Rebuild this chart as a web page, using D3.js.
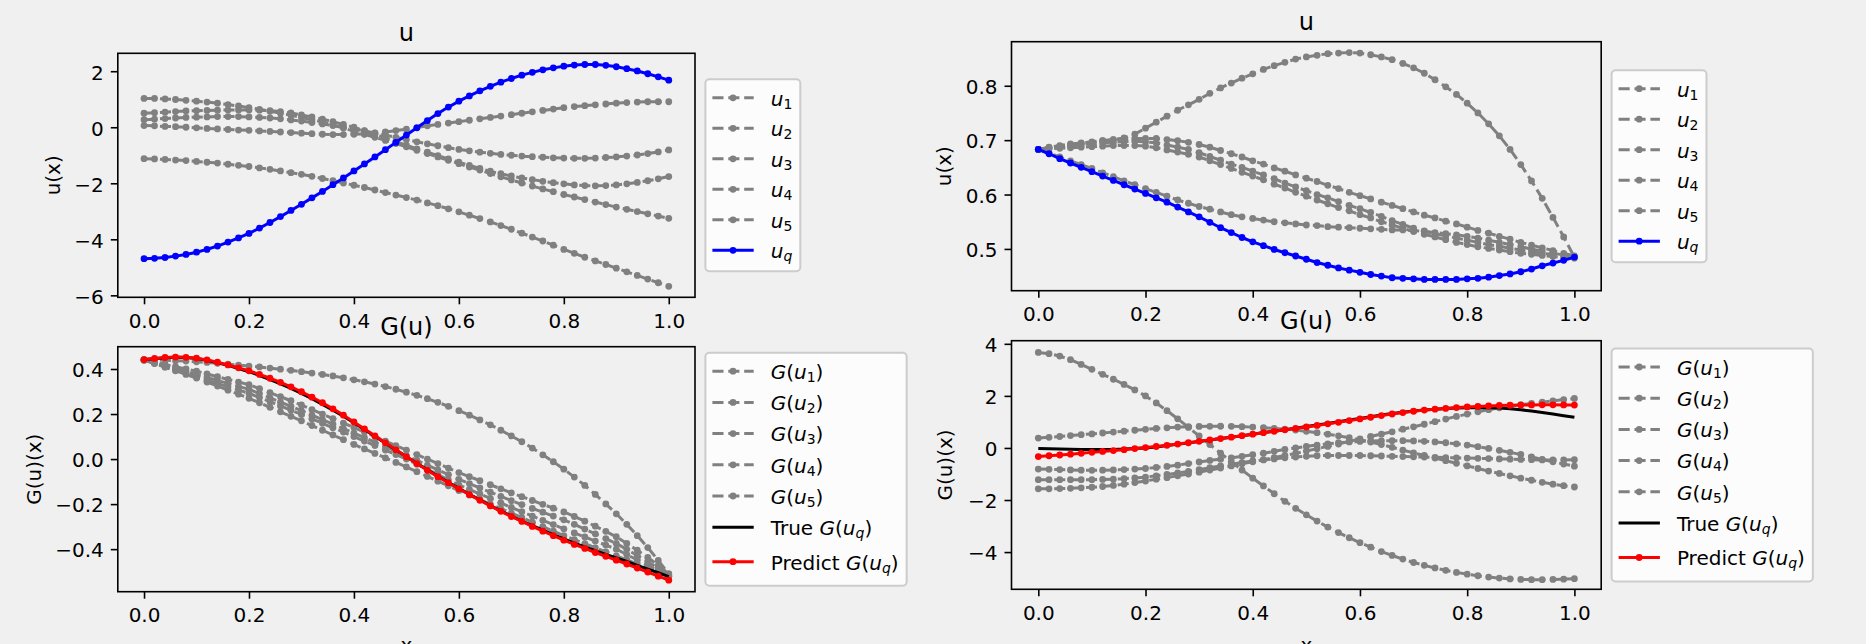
<!DOCTYPE html>
<html><head><meta charset="utf-8">
<script src="https://cdn.jsdelivr.net/npm/d3@7"></script>
<style>
html,body{margin:0;padding:0;background:#f0f0f0;}
svg{display:block;font-family:"DejaVu Sans",sans-serif;}
text{white-space:pre;}
</style></head><body>
<svg id="chart" width="1866" height="644"></svg>
<script>
// ---------- DATA ----------
const xGrid = [0,0.02,0.04,0.06,0.08,0.1,0.12,0.14,0.16,0.18,0.2,0.22,0.24,0.26,0.28,0.3,0.32,0.34,0.36,0.38,0.4,0.42,0.44,0.46,0.48,0.5,0.52,0.54,0.56,0.58,0.6,0.62,0.64,0.66,0.68,0.7,0.72,0.74,0.76,0.78,0.8,0.82,0.84,0.86,0.88,0.9,0.92,0.94,0.96,0.98,1.0];
const xTicks = [0,0.2,0.4,0.6,0.8,1.0];
const tlYTicks = [-6,-4,-2,0,2];
const blYTicks = [-0.4,-0.2,0,0.2,0.4];
const trYTicks = [0.5,0.6,0.7,0.8];
const brYTicks = [-4,-2,0,2,4];

// top-left: u samples
const tlU1 = [1.03,1.03,1.01,0.99,0.96,0.93,0.90,0.86,0.81,0.76,0.70,0.64,0.57,0.50,0.43,0.35,0.27,0.19,0.08,-0.03,-0.14,-0.25,-0.36,-0.47,-0.58,-0.70,-0.82,-0.94,-1.06,-1.18,-1.30,-1.42,-1.53,-1.65,-1.77,-1.88,-1.99,-2.10,-2.20,-2.30,-2.40,-2.49,-2.58,-2.67,-2.76,-2.85,-2.93,-3.01,-3.09,-3.17,-3.25];
const tlU2 = [0.50,0.52,0.54,0.56,0.58,0.59,0.60,0.61,0.62,0.62,0.62,0.61,0.59,0.56,0.51,0.44,0.37,0.29,0.20,0.10,0.00,-0.12,-0.25,-0.38,-0.51,-0.64,-0.77,-0.89,-1.01,-1.13,-1.25,-1.36,-1.47,-1.57,-1.66,-1.74,-1.81,-1.87,-1.93,-1.98,-2.02,-2.06,-2.08,-2.09,-2.08,-2.06,-2.02,-1.97,-1.91,-1.84,-1.76];
const tlU3 = [0.27,0.29,0.31,0.33,0.35,0.36,0.37,0.38,0.38,0.38,0.37,0.35,0.33,0.30,0.26,0.22,0.17,0.12,0.06,0.00,-0.06,-0.13,-0.20,-0.28,-0.36,-0.44,-0.52,-0.59,-0.66,-0.73,-0.79,-0.84,-0.89,-0.93,-0.97,-1.00,-1.03,-1.05,-1.07,-1.09,-1.10,-1.11,-1.11,-1.10,-1.08,-1.06,-1.03,-0.99,-0.94,-0.88,-0.81];
const tlU4 = [0.06,0.05,0.03,0.02,0.00,-0.02,-0.04,-0.06,-0.08,-0.10,-0.11,-0.13,-0.15,-0.17,-0.19,-0.21,-0.23,-0.25,-0.26,-0.26,-0.25,-0.24,-0.21,-0.17,-0.12,-0.07,-0.01,0.05,0.10,0.15,0.20,0.25,0.30,0.35,0.40,0.45,0.50,0.55,0.60,0.65,0.70,0.74,0.77,0.80,0.83,0.86,0.88,0.90,0.91,0.91,0.91];
const tlU5 = [-1.12,-1.13,-1.15,-1.17,-1.19,-1.22,-1.25,-1.28,-1.32,-1.36,-1.40,-1.45,-1.50,-1.56,-1.62,-1.68,-1.75,-1.83,-1.91,-1.99,-2.07,-2.15,-2.24,-2.33,-2.42,-2.51,-2.60,-2.70,-2.80,-2.91,-3.02,-3.14,-3.26,-3.38,-3.51,-3.64,-3.78,-3.92,-4.06,-4.21,-4.36,-4.50,-4.64,-4.77,-4.90,-5.03,-5.16,-5.29,-5.42,-5.55,-5.68];
const tlUq = [-4.69,-4.68,-4.65,-4.60,-4.54,-4.46,-4.36,-4.24,-4.10,-3.95,-3.79,-3.60,-3.40,-3.19,-2.97,-2.75,-2.52,-2.29,-2.05,-1.81,-1.56,-1.31,-1.06,-0.80,-0.54,-0.28,-0.02,0.24,0.49,0.72,0.93,1.12,1.30,1.46,1.61,1.74,1.86,1.96,2.05,2.12,2.18,2.22,2.24,2.24,2.21,2.16,2.09,2.01,1.91,1.80,1.68];

// bottom-left: G(u)
const blG1 = [0.440,0.440,0.439,0.437,0.435,0.432,0.429,0.425,0.421,0.417,0.413,0.409,0.404,0.399,0.394,0.388,0.382,0.376,0.369,0.361,0.352,0.343,0.333,0.322,0.310,0.297,0.283,0.268,0.252,0.234,0.215,0.195,0.174,0.152,0.128,0.103,0.077,0.049,0.019,-0.012,-0.045,-0.080,-0.117,-0.157,-0.199,-0.243,-0.290,-0.340,-0.393,-0.450,-0.510];
const blG2 = [0.44,0.43,0.42,0.41,0.40,0.39,0.378,0.366,0.354,0.342,0.33,0.313,0.295,0.277,0.259,0.24,0.22,0.20,0.18,0.16,0.14,0.12,0.10,0.08,0.06,0.04,0.02,0.0,-0.02,-0.04,-0.06,-0.078,-0.096,-0.114,-0.132,-0.15,-0.167,-0.184,-0.201,-0.218,-0.235,-0.255,-0.276,-0.298,-0.321,-0.345,-0.375,-0.405,-0.437,-0.472,-0.51];
const blG3 = [0.44,0.427,0.414,0.401,0.388,0.375,0.362,0.349,0.336,0.323,0.31,0.291,0.272,0.253,0.234,0.215,0.195,0.175,0.155,0.135,0.115,0.095,0.075,0.055,0.035,0.015,-0.006,-0.027,-0.048,-0.069,-0.09,-0.109,-0.128,-0.147,-0.166,-0.185,-0.202,-0.219,-0.236,-0.253,-0.27,-0.29,-0.311,-0.332,-0.353,-0.375,-0.401,-0.428,-0.456,-0.485,-0.515];
const blG4 = [0.44,0.425,0.41,0.395,0.38,0.365,0.35,0.336,0.321,0.307,0.292,0.273,0.255,0.236,0.217,0.198,0.178,0.159,0.139,0.12,0.10,0.08,0.06,0.04,0.02,0.0,-0.023,-0.046,-0.069,-0.092,-0.115,-0.135,-0.155,-0.175,-0.195,-0.215,-0.234,-0.253,-0.272,-0.291,-0.31,-0.328,-0.346,-0.364,-0.382,-0.40,-0.424,-0.448,-0.472,-0.496,-0.52];
const blG5 = [0.44,0.424,0.408,0.392,0.376,0.36,0.342,0.324,0.306,0.288,0.27,0.25,0.23,0.21,0.19,0.17,0.149,0.128,0.107,0.086,0.065,0.045,0.025,0.005,-0.015,-0.035,-0.056,-0.077,-0.098,-0.119,-0.14,-0.16,-0.18,-0.20,-0.22,-0.24,-0.26,-0.28,-0.30,-0.32,-0.34,-0.358,-0.376,-0.394,-0.412,-0.43,-0.448,-0.466,-0.484,-0.502,-0.52];
const blTrue = [0.442,0.446,0.450,0.452,0.451,0.447,0.439,0.428,0.416,0.402,0.388,0.371,0.353,0.334,0.314,0.292,0.268,0.243,0.217,0.190,0.161,0.131,0.101,0.070,0.040,0.010,-0.019,-0.048,-0.076,-0.103,-0.130,-0.156,-0.181,-0.206,-0.230,-0.253,-0.275,-0.296,-0.316,-0.336,-0.355,-0.373,-0.390,-0.407,-0.423,-0.439,-0.455,-0.472,-0.489,-0.505,-0.522];
const blPred = [0.442,0.447,0.451,0.453,0.452,0.448,0.440,0.430,0.418,0.405,0.392,0.376,0.359,0.341,0.321,0.299,0.275,0.250,0.223,0.195,0.165,0.134,0.103,0.072,0.041,0.010,-0.020,-0.050,-0.078,-0.105,-0.132,-0.158,-0.183,-0.208,-0.232,-0.255,-0.277,-0.299,-0.320,-0.340,-0.360,-0.379,-0.397,-0.415,-0.432,-0.449,-0.466,-0.484,-0.502,-0.520,-0.538];

// top-right: u samples
const trU1 = [0.683,0.686,0.689,0.691,0.694,0.696,0.699,0.701,0.704,0.711,0.722,0.733,0.744,0.755,0.765,0.775,0.786,0.796,0.805,0.814,0.822,0.830,0.837,0.843,0.849,0.853,0.856,0.859,0.860,0.861,0.860,0.857,0.853,0.848,0.841,0.833,0.823,0.811,0.798,0.784,0.768,0.750,0.730,0.708,0.683,0.655,0.625,0.593,0.558,0.522,0.485];
const trU2 = [0.683,0.687,0.690,0.693,0.695,0.697,0.699,0.701,0.702,0.703,0.703,0.703,0.701,0.699,0.696,0.692,0.687,0.681,0.675,0.669,0.662,0.656,0.649,0.643,0.636,0.630,0.624,0.617,0.611,0.604,0.598,0.592,0.586,0.580,0.574,0.568,0.562,0.557,0.551,0.546,0.540,0.534,0.529,0.523,0.518,0.512,0.507,0.502,0.497,0.492,0.487];
const trU3 = [0.683,0.686,0.688,0.690,0.692,0.693,0.695,0.696,0.697,0.698,0.697,0.695,0.691,0.687,0.683,0.677,0.670,0.663,0.656,0.650,0.643,0.636,0.629,0.621,0.614,0.607,0.600,0.594,0.587,0.580,0.574,0.567,0.560,0.552,0.545,0.538,0.533,0.528,0.524,0.520,0.516,0.512,0.508,0.505,0.501,0.498,0.495,0.492,0.490,0.487,0.485];
const trU4 = [0.683,0.684,0.685,0.686,0.687,0.688,0.689,0.690,0.690,0.690,0.689,0.686,0.682,0.678,0.674,0.669,0.662,0.655,0.648,0.641,0.634,0.627,0.619,0.612,0.604,0.597,0.590,0.583,0.576,0.570,0.563,0.557,0.550,0.544,0.538,0.532,0.527,0.522,0.517,0.512,0.508,0.504,0.501,0.498,0.495,0.492,0.490,0.488,0.486,0.484,0.483];
const trU5 = [0.683,0.676,0.669,0.662,0.655,0.648,0.640,0.633,0.625,0.618,0.611,0.604,0.597,0.590,0.584,0.578,0.573,0.568,0.563,0.559,0.556,0.553,0.550,0.548,0.546,0.544,0.543,0.541,0.540,0.539,0.538,0.537,0.536,0.535,0.535,0.534,0.532,0.530,0.528,0.526,0.523,0.520,0.516,0.512,0.508,0.504,0.500,0.496,0.492,0.489,0.485];
const trUq = [0.683,0.675,0.666,0.658,0.650,0.642,0.634,0.626,0.618,0.610,0.602,0.594,0.586,0.577,0.568,0.559,0.549,0.539,0.530,0.521,0.513,0.506,0.499,0.493,0.487,0.481,0.475,0.470,0.465,0.461,0.457,0.453,0.450,0.447,0.446,0.445,0.444,0.444,0.444,0.444,0.445,0.446,0.448,0.451,0.454,0.458,0.463,0.469,0.474,0.479,0.485];

// bottom-right: G(u)
const brG1 = [3.67,3.62,3.53,3.39,3.21,3.02,2.83,2.64,2.44,2.23,2.00,1.73,1.43,1.12,0.79,0.46,0.13,-0.20,-0.53,-0.85,-1.16,-1.46,-1.76,-2.05,-2.32,-2.57,-2.81,-3.04,-3.25,-3.45,-3.64,-3.81,-3.98,-4.13,-4.27,-4.40,-4.51,-4.61,-4.70,-4.78,-4.85,-4.91,-4.96,-5.00,-5.03,-5.05,-5.06,-5.06,-5.05,-5.04,-5.02];
const brG2 = [0.38,0.41,0.44,0.475,0.51,0.54,0.575,0.61,0.645,0.68,0.715,0.75,0.775,0.80,0.815,0.825,0.832,0.834,0.830,0.818,0.80,0.778,0.752,0.72,0.685,0.64,0.585,0.53,0.465,0.395,0.315,0.225,0.13,0.025,-0.085,-0.19,-0.29,-0.39,-0.49,-0.59,-0.69,-0.79,-0.89,-0.98,-1.07,-1.16,-1.24,-1.32,-1.39,-1.45,-1.50];
const brG3 = [-0.81,-0.82,-0.83,-0.845,-0.855,-0.86,-0.855,-0.845,-0.83,-0.81,-0.79,-0.75,-0.71,-0.66,-0.60,-0.54,-0.48,-0.43,-0.38,-0.32,-0.26,-0.20,-0.13,-0.06,0.0,0.06,0.11,0.16,0.20,0.23,0.25,0.265,0.275,0.28,0.278,0.27,0.255,0.23,0.20,0.16,0.11,0.05,-0.02,-0.09,-0.17,-0.25,-0.34,-0.44,-0.53,-0.62,-0.70];
const brG4 = [-1.22,-1.22,-1.22,-1.22,-1.22,-1.22,-1.21,-1.20,-1.18,-1.15,-1.12,-1.07,-1.02,-0.96,-0.90,-0.83,-0.76,-0.69,-0.63,-0.56,-0.50,-0.46,-0.42,-0.38,-0.35,-0.32,-0.30,-0.29,-0.29,-0.29,-0.29,-0.30,-0.31,-0.32,-0.33,-0.34,-0.35,-0.36,-0.37,-0.38,-0.39,-0.40,-0.41,-0.42,-0.43,-0.44,-0.45,-0.46,-0.46,-0.46,-0.45];
const brG5 = [-1.57,-1.57,-1.56,-1.55,-1.53,-1.51,-1.48,-1.44,-1.39,-1.33,-1.27,-1.20,-1.14,-1.07,-1.00,-0.93,-0.85,-0.77,-0.69,-0.61,-0.53,-0.45,-0.37,-0.29,-0.21,-0.12,-0.03,0.06,0.15,0.25,0.35,0.44,0.53,0.62,0.72,0.81,0.91,1.01,1.11,1.21,1.30,1.39,1.47,1.54,1.60,1.66,1.71,1.76,1.81,1.86,1.90];
const brTrue = [-0.02,-0.03,-0.04,-0.05,-0.055,-0.06,-0.06,-0.055,-0.045,-0.025,0.0,0.04,0.09,0.14,0.195,0.25,0.305,0.36,0.415,0.47,0.53,0.59,0.645,0.70,0.76,0.82,0.88,0.94,1.005,1.07,1.135,1.20,1.265,1.32,1.375,1.42,1.46,1.49,1.515,1.535,1.545,1.55,1.545,1.535,1.51,1.465,1.42,1.36,1.30,1.24,1.18];
const brPred = [-0.33,-0.30,-0.27,-0.24,-0.205,-0.17,-0.135,-0.10,-0.065,-0.025,0.015,0.055,0.10,0.15,0.20,0.255,0.31,0.36,0.415,0.47,0.53,0.585,0.64,0.695,0.75,0.805,0.865,0.925,0.985,1.05,1.115,1.18,1.245,1.305,1.36,1.41,1.455,1.49,1.52,1.55,1.575,1.595,1.615,1.63,1.64,1.648,1.653,1.655,1.655,1.652,1.648];

// ---------- DRAWING ----------
const GRAY = "#808080", BLUE = "#0000ff", RED = "#ff0000", BLACK = "#000000";
const FONT = "DejaVu Sans";
const svg = d3.select("#chart");

function uSeries(vals, q) {
  const list = vals.map((v, i) => ({values: v, color: GRAY, dashed: true, marker: true, label: {G: false, sub: String(i + 1)}}));
  list.push({values: q, color: BLUE, dashed: false, marker: true, label: {G: false, sub: "q"}});
  return list;
}
function gSeries(vals, tru, pred) {
  const list = vals.map((v, i) => ({values: v, color: GRAY, dashed: true, marker: true, label: {G: true, sub: String(i + 1)}}));
  list.push({values: tru, color: BLACK, dashed: false, marker: false, label: {G: true, sub: "q", prefix: "True "}});
  list.push({values: pred, color: RED, dashed: false, marker: true, label: {G: true, sub: "q", prefix: "Predict "}});
  return list;
}

const panels = [
  {left: 117.8, right: 695, top: 53.3, bottom: 297.3, yDomain: [-6.07, 2.64], yTicks: tlYTicks, fmt: d3.format("d"),
   title: "u", ylabel: "u(x)", ylabelX: 60.3, xlabel: null,
   series: uSeries([tlU1, tlU2, tlU3, tlU4, tlU5], tlUq)},
  {left: 117.8, right: 695, top: 346.7, bottom: 591.7, yDomain: [-0.589, 0.499], yTicks: blYTicks, fmt: d3.format(".1f"),
   title: "G(u)", ylabel: "G(u)(x)", ylabelX: 40.6, xlabel: "x",
   series: gSeries([blG1, blG2, blG3, blG4, blG5], blTrue, blPred)},
  {left: 1011.5, right: 1601.2, top: 41.7, bottom: 290.7, yDomain: [0.4232, 0.8810], yTicks: trYTicks, fmt: d3.format(".1f"),
   title: "u", ylabel: "u(x)", ylabelX: 951, xlabel: null,
   series: uSeries([trU1, trU2, trU3, trU4, trU5], trUq)},
  {left: 1011.5, right: 1601.2, top: 340.7, bottom: 589.3, yDomain: [-5.43, 4.12], yTicks: brYTicks, fmt: d3.format("d"),
   title: "G(u)", ylabel: "G(u)(x)", ylabelX: 952, xlabel: "x",
   series: gSeries([brG1, brG2, brG3, brG4, brG5], brTrue, brPred)}
];

function addLabel(textSel, lab) {
  if (lab.prefix) textSel.append("tspan").text(lab.prefix);
  if (lab.G) {
    textSel.append("tspan").attr("font-style", "italic").text("G");
    textSel.append("tspan").text("(");
  }
  textSel.append("tspan").attr("font-style", "italic").text("u");
  const isLetter = /[a-z]/.test(lab.sub);
  textSel.append("tspan").attr("font-size", 14).attr("dy", 3)
    .attr("font-style", isLetter ? "italic" : "normal").text(lab.sub);
  if (lab.G) textSel.append("tspan").attr("dy", -3).attr("font-size", 20).text(")");
}

function drawPanel(p) {
  const x = d3.scaleLinear().domain([-0.05, 1.05]).range([p.left, p.right]);
  const y = d3.scaleLinear().domain(p.yDomain).range([p.bottom, p.top]);
  const g = svg.append("g");
  const line = d3.line().x(d => x(d[0])).y(d => y(d[1]));

  p.series.forEach(s => {
    const pts = xGrid.map((xv, i) => [xv, s.values[i]]);
    g.append("path").attr("d", line(pts)).attr("fill", "none")
      .attr("stroke", s.color).attr("stroke-width", 3)
      .attr("stroke-linejoin", "round")
      .attr("stroke-dasharray", s.dashed ? "11.1,4.8" : null);
    if (s.marker) {
      g.append("g").selectAll("circle").data(pts).join("circle")
        .attr("cx", d => x(d[0])).attr("cy", d => y(d[1]))
        .attr("r", 3.4).attr("fill", s.color);
    }
  });

  // axes
  const ax = g.append("g").attr("transform", `translate(0,${p.bottom})`)
    .call(d3.axisBottom(x).tickValues(xTicks).tickFormat(d3.format(".1f")).tickSize(7).tickSizeOuter(0).tickPadding(9.6));
  const ay = g.append("g").attr("transform", `translate(${p.left},0)`)
    .call(d3.axisLeft(y).tickValues(p.yTicks).tickFormat(p.fmt).tickSize(7).tickSizeOuter(0).tickPadding(7));
  [ax, ay].forEach(a => {
    a.select(".domain").remove();
    a.attr("font-size", 20).attr("font-family", FONT);
    a.selectAll(".tick line").attr("stroke", "#000").attr("stroke-width", 1.6);
    a.selectAll(".tick text").attr("fill", "#000");
  });
  ay.selectAll(".tick text").attr("dy", "0.39em");

  // frame
  g.append("rect").attr("x", p.left).attr("y", p.top)
    .attr("width", p.right - p.left).attr("height", p.bottom - p.top)
    .attr("fill", "none").attr("stroke", "#000").attr("stroke-width", 1.6);

  // title
  g.append("text").attr("x", (p.left + p.right) / 2).attr("y", p.top - 12)
    .attr("text-anchor", "middle").attr("font-size", 24).attr("fill", "#000").text(p.title);
  // y label
  g.append("text").attr("transform", `translate(${p.ylabelX},${(p.top + p.bottom) / 2}) rotate(-90)`)
    .attr("text-anchor", "middle").attr("font-size", 20).attr("fill", "#000").text(p.ylabel);
  // x label
  if (p.xlabel) {
    g.append("text").attr("x", (p.left + p.right) / 2).attr("y", 652)
      .attr("text-anchor", "middle").attr("font-size", 20).attr("fill", "#000").text(p.xlabel);
  }

  // legend
  const n = p.series.length;
  const H = n === 6 ? 192 : 233;
  const step = n === 6 ? 30.5 : 31.2;
  const L = p.right + 10.4;
  const T = (p.top + p.bottom) / 2 - H / 2;
  const lg = svg.append("g");
  const box = lg.append("rect").attr("x", L).attr("y", T).attr("height", H)
    .attr("rx", 4).attr("fill", "rgba(255,255,255,0.8)").attr("stroke", "#cccccc").attr("stroke-width", 2);
  let maxW = 0;
  p.series.forEach((s, i) => {
    const ry = T + 18.5 + i * step + (i === 6 ? 3.3 : 0);
    lg.append("line").attr("x1", L + 7).attr("x2", L + 48.3).attr("y1", ry).attr("y2", ry)
      .attr("stroke", s.color).attr("stroke-width", 3)
      .attr("stroke-dasharray", s.dashed ? "11.1,4.8" : null);
    if (s.marker) lg.append("circle").attr("cx", L + 27.6).attr("cy", ry).attr("r", 3.4).attr("fill", s.color);
    const t = lg.append("text").attr("x", L + 65.3).attr("y", ry + 7.8)
      .attr("font-size", 20).attr("fill", "#000");
    addLabel(t, s.label);
    maxW = Math.max(maxW, t.node().getComputedTextLength());
  });
  box.attr("width", 65.3 + maxW + 8);
}

panels.forEach(drawPanel);
</script>
</body></html>
